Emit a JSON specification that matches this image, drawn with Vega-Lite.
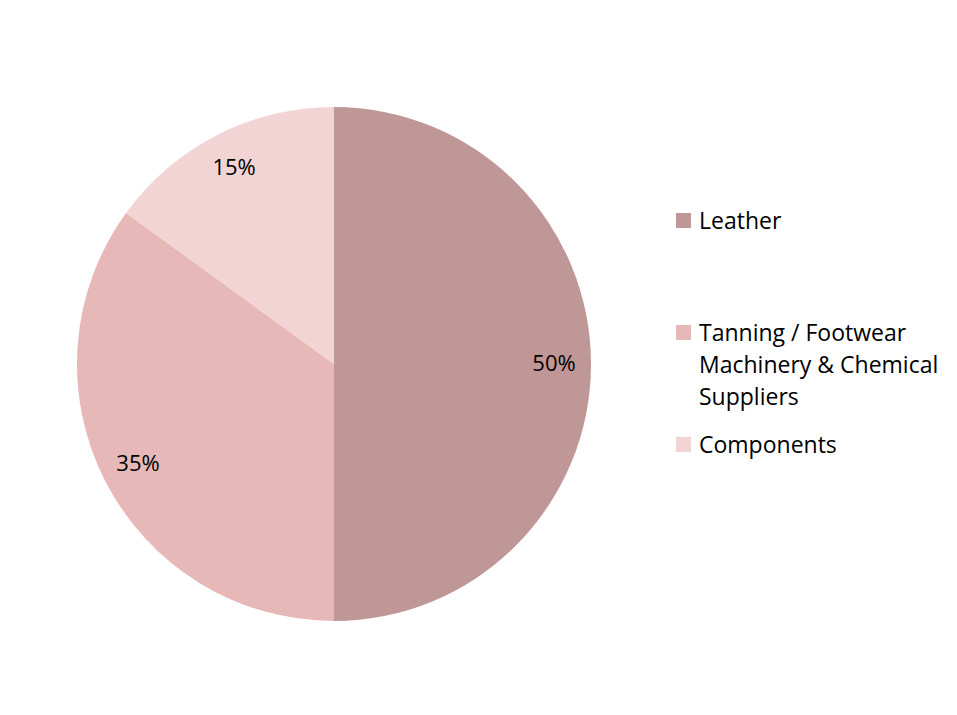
{
  "$schema": "https://vega.github.io/schema/vega-lite/v6.json",
  "autosize": {"type": "none"},
  "width": 668,
  "height": 702,
  "padding": {"left": 0, "top": 13, "right": 289, "bottom": 0},
  "background": "white",
  "config": {"view": {"stroke": null}},
  "data": {
    "values": [
      {"category": "Leather", "share": 50, "label": "50%", "order": 1},
      {"category": "Tanning / Footwear Machinery & Chemical Suppliers", "share": 35, "label": "35%", "order": 2},
      {"category": "Components", "share": 15, "label": "15%", "order": 3}
    ]
  },
  "encoding": {
    "theta": {"field": "share", "type": "quantitative", "stack": true},
    "order": {"field": "order", "type": "quantitative"}
  },
  "layer": [
    {
      "mark": {"type": "arc", "outerRadius": 257},
      "encoding": {
        "color": {
          "field": "category",
          "type": "nominal",
          "scale": {
            "domain": ["Leather", "Tanning / Footwear Machinery & Chemical Suppliers", "Components"],
            "range": ["#C09797", "#E6B8B7", "#F2D4D4"]
          },
          "legend": {
            "title": null,
            "orient": "none",
            "legendX": 672,
            "legendY": 196,
            "padding": 0,
            "symbolType": "square",
            "symbolSize": 225,
            "symbolStrokeWidth": 0,
            "labelFont": "Open Sans",
            "labelFontSize": 23,
            "labelColor": "#000000",
            "labelLimit": 400,
            "labelOffset": 4,
            "rowPadding": 23,
            "labelBaseline": "top",
            "labelExpr": "datum.label == 'Tanning / Footwear Machinery & Chemical Suppliers' ? ['Tanning / Footwear', 'Machinery & Chemical', 'Suppliers'] : datum.label == 'Leather' ? ['Leather', '', ''] : datum.label",
            "encode": {
              "labels": {"update": {"lineHeight": {"value": 32}, "dy": {"value": -10}}}
            }
          }
        }
      }
    },
    {
      "mark": {"type": "text", "radius": 220, "font": "Open Sans", "fontSize": 22, "color": "#000000"},
      "encoding": {
        "text": {"field": "label", "type": "nominal"}
      }
    }
  ]
}
